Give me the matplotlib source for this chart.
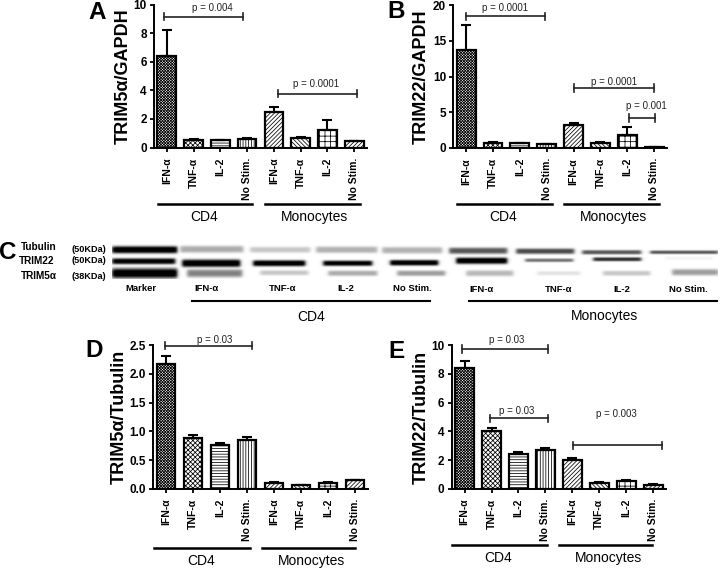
import numpy as np
import matplotlib
matplotlib.use('Agg')
import matplotlib.pyplot as plt

plt.rcParams['font.family'] = ['Liberation Sans', 'DejaVu Sans']
plt.rcParams['hatch.linewidth'] = 0.55

W, H = 720, 569

stim_labels = ['IFN-α', 'TNF-α', 'IL-2', 'No Stim.'] * 2
hatches = ['xxxxxxxxxxxx', 'xxxxxxx', '------', '||||||', '////////', '\\\\\\\\\\\\\\\\', '+++', '////////']

trim5_gapdh = [6.4, 0.55, 0.5, 0.6, 2.45, 0.65, 1.25, 0.45]
trim5_gapdh_err = [1.85, 0.05, 0.02, 0.03, 0.4, 0.1, 0.7, 0.03]
trim22_gapdh = [13.7, 0.7, 0.65, 0.5, 3.2, 0.65, 1.75, 0.1]
trim22_gapdh_err = [3.5, 0.1, 0.07, 0.05, 0.3, 0.15, 1.25, 0.02]
trim5_tub = [2.18, 0.88, 0.76, 0.85, 0.1, 0.06, 0.1, 0.15]
trim5_tub_err = [0.13, 0.05, 0.04, 0.05, 0.01, 0.01, 0.01, 0.01]
trim22_tub = [8.4, 4.0, 2.4, 2.7, 2.0, 0.4, 0.55, 0.27]
trim22_tub_err = [0.5, 0.25, 0.15, 0.15, 0.12, 0.05, 0.05, 0.03]

# blot bands: x start, x end, y centre, half height, darkness
blot_bands = [
    (112, 177, 249.5, 3.6, 1.0), (112, 175, 261, 3.0, 0.95), (112, 177, 273, 5.0, 1.0),
    (180, 243, 249, 3.5, 0.3), (182, 240, 263, 3.8, 1.0), (187, 242, 273, 4.0, 0.45),
    (250, 310, 249.5, 3.0, 0.2), (253, 305, 263, 3.0, 1.0), (260, 308, 272.5, 2.5, 0.2),
    (316, 377, 249.5, 3.3, 0.28), (323, 372, 263, 2.7, 0.95), (328, 377, 273, 2.7, 0.3),
    (382, 442, 250, 3.3, 0.28), (390, 438, 262.5, 2.8, 1.0), (397, 445, 273, 2.8, 0.35),
    (449, 507, 250.5, 3.2, 0.6), (456, 507, 260.5, 3.2, 1.0), (466, 513, 273, 3.0, 0.25),
    (516, 574, 251, 2.8, 0.65), (525, 573, 260, 1.8, 0.5), (537, 580, 273, 2.2, 0.1),
    (582, 641, 252, 2.2, 0.6), (593, 641, 259, 2.0, 0.75), (603, 650, 273, 2.5, 0.2),
    (650, 718, 252, 1.8, 0.6), (665, 713, 258, 1.8, 0.04), (672, 718, 272, 3.2, 0.35),
]
blot_x0, blot_x1, blot_y0, blot_y1 = 112, 718, 244, 279


def px_axes(fig, x0, x1, y_top, y_bot):
    return fig.add_axes([x0 / W, 1 - y_bot / H, (x1 - x0) / W, (y_bot - y_top) / H])


def bar_panel(fig, box, values, errs, ymax, yticks, ylabel, label_x, fmt, brackets, groups, group_gap):
    ax = px_axes(fig, *box)
    x = np.arange(8)
    ax.bar(x, values, width=0.7, color='white', edgecolor='black', linewidth=1.6, hatch=hatches)
    ax.errorbar(x, values, yerr=[np.zeros(8), errs], fmt='none', ecolor='black',
                elinewidth=1.5, capsize=3.4, capthick=1.5)
    ax.set_xlim(-0.48, 7.48)
    ax.set_ylim(0, ymax)
    ax.set_yticks(yticks)
    ax.set_yticklabels([fmt % t for t in yticks], fontsize=8.5, fontweight='bold')
    ax.set_xticks(x)
    ax.set_xticklabels(stim_labels, rotation=90, fontsize=7.5, fontweight='bold')
    ax.tick_params(axis='both', width=1.3, length=3.2, pad=2)
    ax.tick_params(axis='x', pad=4)
    ax.set_ylabel(ylabel, fontsize=13, fontweight='bold', va='center')
    ax.yaxis.set_label_coords((label_x - box[0]) / (box[1] - box[0]), 0.5)
    for s in ['top', 'right']:
        ax.spines[s].set_visible(False)
    for s in ['left', 'bottom']:
        ax.spines[s].set_linewidth(1.4)

    # p value brackets
    for x0, x1, y, label, tx, ty in brackets:
        ax.plot([x0, x1], [y, y], color='#222222', lw=1.2, clip_on=False)
        for xe in (x0, x1):
            ax.plot([xe, xe], [y - ymax * 0.025, y + ymax * 0.025], color='#222222', lw=1.2, clip_on=False)
        ax.text(tx, ty, label, fontsize=7, ha='center', va='center', color='#222222')

    # CD4 / Monocytes group lines
    trans = ax.get_xaxis_transform()
    height = box[3] - box[2]
    for x0, x1, name, tx in groups:
        ax.plot([x0, x1], [-group_gap / height] * 2, transform=trans, color='black', lw=1.8, clip_on=False)
        ax.text(tx, -(group_gap + 13) / height, name, transform=trans, fontsize=10,
                ha='center', va='center')
    return ax


def blot_image():
    xs = np.arange(blot_x0, blot_x1, 0.5)
    ys = np.arange(blot_y0, blot_y1, 0.5)
    img = np.zeros((len(ys), len(xs)))
    for b0, b1, yc, half, dark in blot_bands:
        prof_x = 0.5 * (np.tanh((xs - b0) / 2.0) - np.tanh((xs - b1) / 2.0))
        prof_y = np.exp(-(np.abs(ys - yc) / half) ** 3)
        img = np.maximum(img, dark * np.outer(prof_y, prof_x))
    return 1 - np.clip(img * 1.1, 0, 1)


fig = plt.figure(figsize=(W / 100, H / 100), dpi=100)

bar_panel(fig, (154, 367, 4.5, 147.5), trim5_gapdh, trim5_gapdh_err, 10, [0, 2, 4, 6, 8, 10],
          'TRIM5α/GAPDH', 123, '%d',
          [(-0.11, 2.85, 9.15, 'p = 0.004', 1.69, 9.75),
           (4.15, 7.1, 3.76, 'p = 0.0001', 5.57, 4.45)],
          [(-0.34, 3.19, 'CD4', 1.38), (3.67, 7.2, 'Monocytes', 5.5)], 56.5)
bar_panel(fig, (453.3, 667, 5, 148), trim22_gapdh, trim22_gapdh_err, 20, [0, 5, 10, 15, 20],
          'TRIM22/GAPDH', 421.7, '%d',
          [(0.0, 2.93, 18.4, 'p = 0.0001', 1.44, 19.55),
           (4.03, 6.98, 8.4, 'p = 0.0001', 5.52, 9.3),
           (6.05, 7.05, 4.2, 'p = 0.001', 6.7, 5.85)],
          [(-0.35, 3.19, 'CD4', 1.37), (3.65, 7.17, 'Monocytes', 5.47)], 56)
bar_panel(fig, (153, 368, 345.3, 488.7), trim5_tub, trim5_tub_err, 2.5, [0, 0.5, 1, 1.5, 2, 2.5],
          'TRIM5α/Tubulin', 119, '%.1f',
          [(-0.05, 3.2, 2.49, 'p = 0.03', 1.82, 2.6)],
          [(-0.44, 3.11, 'CD4', 1.32), (3.55, 6.99, 'Monocytes', 5.4)], 59.3)
bar_panel(fig, (451.7, 666, 345.3, 488.7), trim22_tub, trim22_tub_err, 10, [0, 2, 4, 6, 8, 10],
          'TRIM22/Tubulin', 421.7, '%d',
          [(-0.11, 3.1, 9.74, 'p = 0.03', 1.56, 10.35),
           (0.95, 3.1, 4.9, 'p = 0.03', 1.94, 5.4),
           (4.04, 7.33, 3.03, 'p = 0.003', 5.65, 5.2)],
          [(-0.47, 3.05, 'CD4', 1.24), (3.51, 6.95, 'Monocytes', 5.33)], 56.3)

# western blot strip
ax_blot = px_axes(fig, blot_x0, blot_x1, blot_y0, blot_y1)
ax_blot.imshow(blot_image(), cmap='gray', vmin=0, vmax=1, aspect='auto', interpolation='bilinear')
ax_blot.axis('off')

# panel C labels and panel letters on a full figure overlay
over = fig.add_axes([0, 0, 1, 1], facecolor='none')
over.set_xlim(0, W)
over.set_ylim(H, 0)
over.axis('off')
for label, px, py in [('A', 97, 19), ('B', 396, 18), ('C', 8, 259), ('D', 94, 357), ('E', 396, 358)]:
    over.text(px, py, label, fontsize=17.5, fontweight='bold', ha='center', va='baseline')
for label, px, py in [('Tubulin', 39, 247), ('TRIM22', 37, 261), ('TRIM5α', 39, 276)]:
    over.text(px, py, label, fontsize=7.2, fontweight='bold', ha='center', va='center')
for label, py in [('(50KDa)', 249.3), ('(50KDa)', 260), ('(38KDa)', 276.7)]:
    over.text(89, py, label, fontsize=6.6, fontweight='bold', ha='center', va='center')
for label, px, py in [('Marker', 140.7, 288), ('IFN-α', 206.7, 288.5), ('TNF-α', 282.7, 288.5), ('IL-2', 346, 288.5),
                      ('No Stim.', 412.7, 288.7), ('IFN-α', 482, 289), ('TNF-α', 559, 289),
                      ('IL-2', 622, 289), ('No Stim.', 688, 289)]:
    over.text(px, py, label, fontsize=6.8, fontweight='bold', ha='center', va='center')
over.plot([191.7, 430], [300.7, 300.7], color='black', lw=1.5)
over.plot([469, 716.7], [300.7, 300.7], color='black', lw=1.5)
over.text(311, 317, 'CD4', fontsize=10, ha='center', va='center')
over.text(605, 316, 'Monocytes', fontsize=10, ha='center', va='center')

fig.savefig('out.png', dpi=100)
